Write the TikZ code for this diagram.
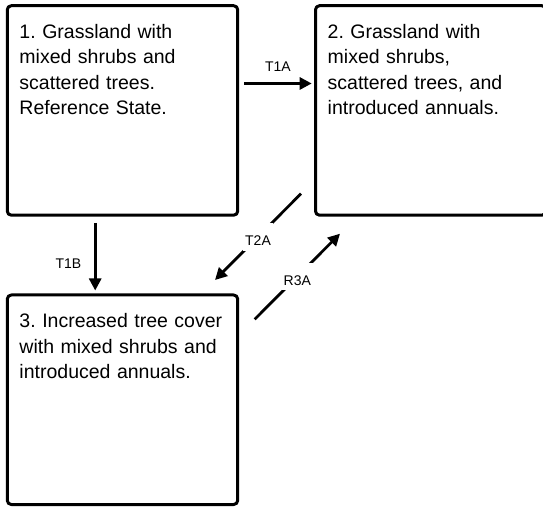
\documentclass[tikz,border=0pt]{standalone}
\usepackage{fontspec}
\setmainfont{Liberation Sans}
\usetikzlibrary{arrows.meta}
\usetikzlibrary{positioning}
\frenchspacing

\begin{document}
\begin{tikzpicture}[line cap=round,line join=round, x=1pt,y=1pt,
	statebox/.style={draw=black, line width=3pt, rounded corners=4pt, anchor=north west, outer sep=0pt, inner xsep=12.2pt, inner ysep=0pt, text width=206pt, align=left, text height=33pt, text depth=176.5pt, font=\fontsize{19.5}{25.3}\selectfont},
	trans/.style={-{Triangle[length=12pt, width=12pt]}, line width=2.8pt, line cap=butt},
	translabel/.style={font=\fontsize{14}{16}\selectfont, inner sep=0pt},
	onlabel/.style={translabel, fill=white, inner sep=2pt, text height=20.8pt, text depth=2.8pt}]
						\useasboundingbox (0,0) rectangle (543,506);
						\clip (0,0) rectangle (543,506);
						\node[statebox] (s1) at (7.3,500.3) {1. Grassland with\\mixed shrubs and\\scattered trees.\\Reference State.};
						\node[statebox] (s2) at (315.5,500.3) {2. Grassland with\\mixed shrubs,\\scattered trees, and\\introduced annuals.};
						\node[statebox] (s3) at (7.3,211) {3. Increased tree cover\\with mixed shrubs and\\introduced annuals.};
						\draw[trans] ([shift={(6.3,-77.8)}]s1.north east) -- node[translabel, above=11pt] {T1A} ([shift={(-3.8,-77.8)}]s2.north west);
						\draw[trans] ([shift={(87.9,-7.8)}]s1.south west) -- node[translabel, pos=0.6, left=12.5pt] {T1B} ([shift={(87.9,4.5)}]s3.north west);
						\draw[trans] ([shift={(-14.5,21.5)}]s2.south west) -- node[onlabel] {T2A} ([shift={(-22.7,15)}]s3.north east);
						\draw[trans] ([shift={(17,-24.3)}]s3.north east) -- node[onlabel] {R3A} ([shift={(24.5,-18.5)}]s2.south west);
					\end{tikzpicture}
\end{document}
